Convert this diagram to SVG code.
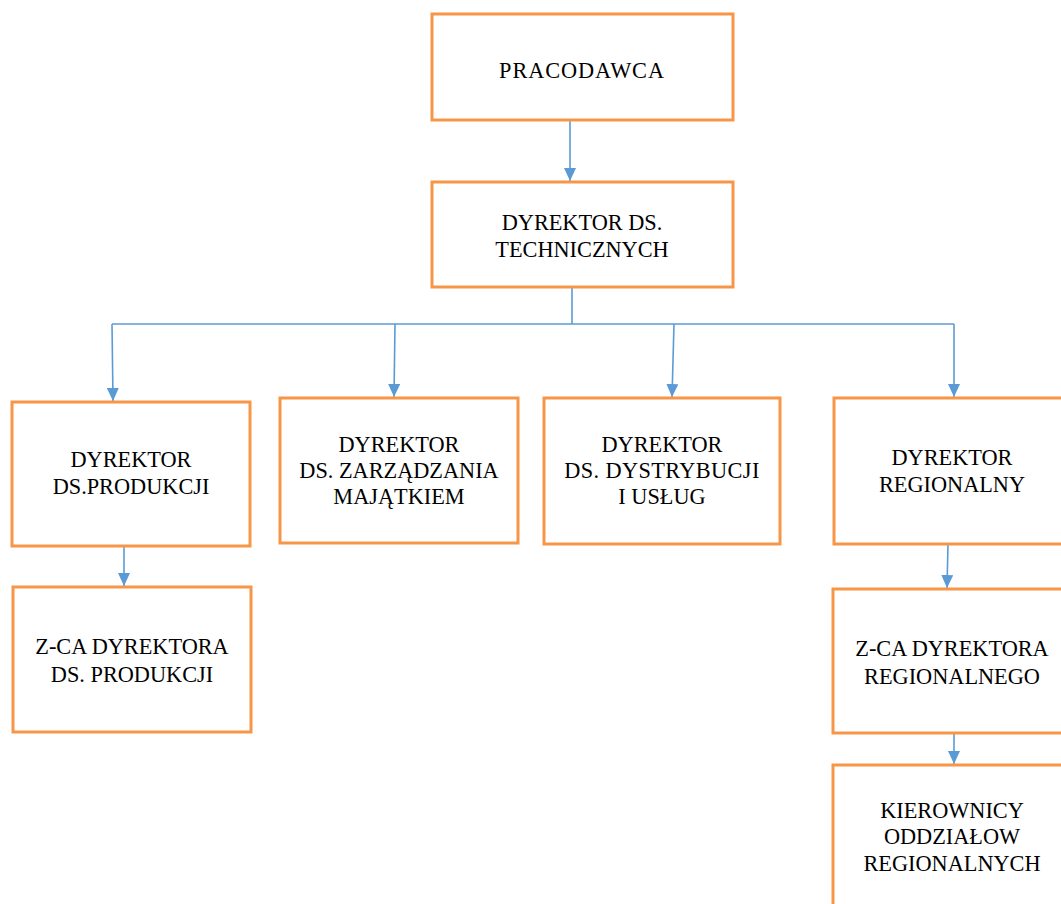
<svg xmlns="http://www.w3.org/2000/svg" width="1061" height="904" viewBox="0 0 1061 904" font-family="Liberation Serif, DejaVu Serif, serif">
<style>
.box{fill:#ffffff;stroke:#F79646;stroke-width:3}
.lbl{font-size:22.3px;fill:#000;text-anchor:middle}
.con{fill:none;stroke:#5B9BD5;stroke-width:1.6}
.arr{fill:none;stroke:#5B9BD5;stroke-width:1.6;marker-end:url(#ah)}
</style>
<defs>
<marker id="ah" markerUnits="userSpaceOnUse" markerWidth="13" markerHeight="12" viewBox="0 0 13 12" refX="13" refY="6" orient="auto">
<path d="M0,0 L13,6 L0,12 Z" fill="#5B9BD5"/>
</marker>
</defs>
<rect width="1061" height="904" fill="#ffffff"/>
<g id="connectors">
<line class="arr" x1="570" y1="121" x2="570" y2="181"/>
<polyline class="con" points="572,288 572,324"/>
<polyline class="con" points="112,324 954,324"/>
<line class="arr" x1="112" y1="324" x2="113" y2="401"/>
<line class="arr" x1="395" y1="324" x2="394" y2="397"/>
<line class="arr" x1="674" y1="324" x2="672" y2="397"/>
<line class="arr" x1="954" y1="324" x2="954" y2="397"/>
<line class="arr" x1="124" y1="546" x2="124" y2="586"/>
<line class="arr" x1="948" y1="544" x2="947" y2="588"/>
<line class="arr" x1="954" y1="734" x2="954" y2="764"/>
</g>
<g id="n-pracodawca">
<rect class="box" x="432" y="14" width="301" height="106"/>
<text class="lbl" x="582" y="78" letter-spacing="0.9">PRACODAWCA</text>
</g>
<g id="n-techniczny">
<rect class="box" x="432" y="182" width="301" height="105"/>
<text class="lbl" x="582" y="230">DYREKTOR DS.</text>
<text class="lbl" x="582" y="257">TECHNICZNYCH</text>
</g>
<g id="n-produkcja">
<rect class="box" x="12" y="402" width="238" height="144"/>
<text class="lbl" x="131" y="467">DYREKTOR</text>
<text class="lbl" x="131" y="494">DS.PRODUKCJI</text>
</g>
<g id="n-majatek">
<rect class="box" x="280" y="398" width="238" height="145"/>
<text class="lbl" x="399" y="452">DYREKTOR</text>
<text class="lbl" x="399" y="478">DS. ZARZĄDZANIA</text>
<text class="lbl" x="399" y="504">MAJĄTKIEM</text>
</g>
<g id="n-dystrybucja">
<rect class="box" x="544" y="398" width="236" height="146"/>
<text class="lbl" x="662" y="452">DYREKTOR</text>
<text class="lbl" x="662" y="478" letter-spacing="0.4">DS. DYSTRYBUCJI</text>
<text class="lbl" x="662" y="504">I USŁUG</text>
</g>
<g id="n-regionalny">
<rect class="box" x="834" y="398" width="238" height="146"/>
<text class="lbl" x="952" y="465">DYREKTOR</text>
<text class="lbl" x="952" y="492">REGIONALNY</text>
</g>
<g id="n-zca-produkcja">
<rect class="box" x="13" y="587" width="238" height="145"/>
<text class="lbl" x="132" y="654">Z-CA DYREKTORA</text>
<text class="lbl" x="132" y="682">DS. PRODUKCJI</text>
</g>
<g id="n-zca-regionalny">
<rect class="box" x="833" y="589" width="238" height="144"/>
<text class="lbl" x="952" y="656">Z-CA DYREKTORA</text>
<text class="lbl" x="952" y="684">REGIONALNEGO</text>
</g>
<g id="n-kierownicy">
<rect class="box" x="833" y="765" width="238" height="160"/>
<text class="lbl" x="952" y="818">KIEROWNICY</text>
<text class="lbl" x="952" y="844">ODDZIAŁOW</text>
<text class="lbl" x="952" y="871">REGIONALNYCH</text>
</g>
</svg>
